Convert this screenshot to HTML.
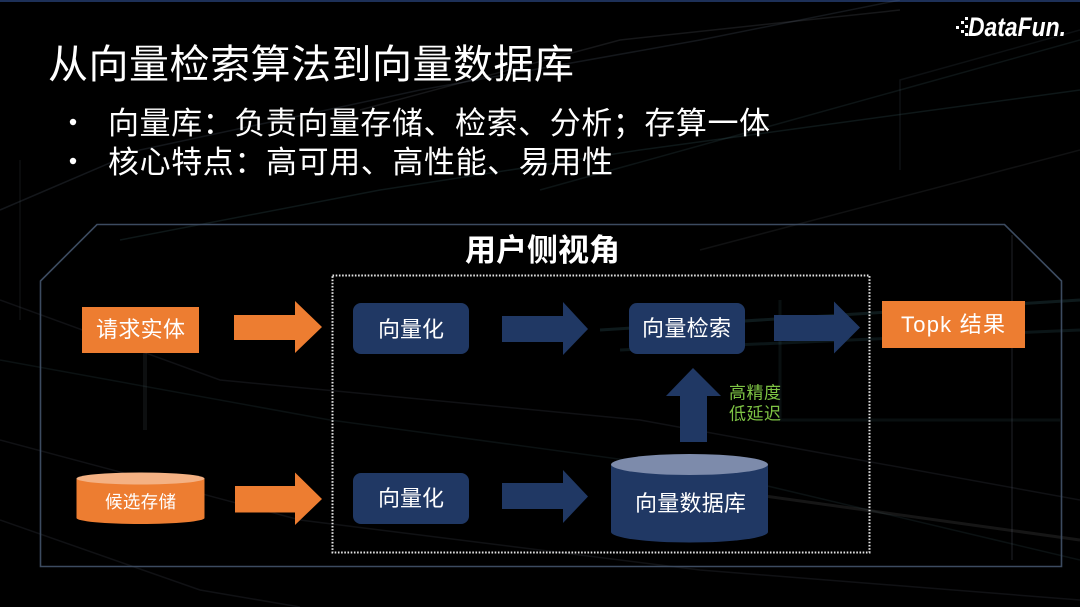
<!DOCTYPE html>
<html><head><meta charset="utf-8"><style>
html,body{margin:0;padding:0;background:#000;}
body{width:1080px;height:607px;overflow:hidden;}
svg{display:block;}
text{font-family:"Liberation Sans","Noto Sans CJK SC",sans-serif;}
</style></head><body>
<svg width="1080" height="607" viewBox="0 0 1080 607" xmlns="http://www.w3.org/2000/svg">
<rect x="0" y="0" width="1080" height="607" fill="#000"/>
<rect x="0" y="0" width="1080" height="2" fill="#1d3058"/>
<!-- faint background lines -->
<g fill="none" stroke-width="1.5">
<path d="M0 210 L140 150 L420 90 L700 40 L900 0" stroke="rgba(110,130,150,0.18)"/>
<path d="M120 240 L380 190 L640 150 L1080 90" stroke="rgba(90,140,150,0.16)"/>
<path d="M360 110 L620 40 L900 10" stroke="rgba(120,130,140,0.18)"/>
<path d="M540 190 L1080 40" stroke="rgba(90,140,150,0.14)"/>
<path d="M700 250 L1080 150" stroke="rgba(110,120,130,0.14)"/>
<path d="M900 170 L900 80 L1080 30" stroke="rgba(110,130,150,0.12)"/>
<path d="M0 300 L220 380 L640 420 L1080 500" stroke="rgba(110,120,140,0.14)"/>
<path d="M0 360 L330 420 L700 470 L1080 560" stroke="rgba(90,140,150,0.12)"/>
<path d="M0 440 L300 520 L700 570 L1080 600" stroke="rgba(110,120,140,0.14)"/>
<path d="M0 520 L200 590 L300 607" stroke="rgba(110,120,140,0.14)"/>
<path d="M600 330 L1080 300" stroke="rgba(70,130,140,0.2)" stroke-width="3"/>
<path d="M620 350 L1080 330" stroke="rgba(70,130,140,0.16)" stroke-width="3"/>
<path d="M780 300 L780 420 L1060 420" stroke="rgba(70,120,130,0.12)" stroke-width="3"/>
<path d="M650 480 L1080 540" stroke="rgba(120,120,120,0.18)" stroke-width="3"/>
<path d="M145 340 L145 430" stroke="rgba(110,120,130,0.12)" stroke-width="4"/>
<path d="M20 160 L20 320" stroke="rgba(110,120,130,0.12)"/>
<path d="M1012 235 L1012 560" stroke="rgba(110,120,140,0.14)" stroke-width="2"/>
</g>

<!-- title -->
<text x="48" y="78" font-size="40" fill="#fff" textLength="526" lengthAdjust="spacing">从向量检索算法到向量数据库</text>
<circle cx="73" cy="122" r="3.2" fill="#fff"/>
<circle cx="73" cy="161" r="3.2" fill="#fff"/>
<text x="108" y="134" font-size="31" fill="#fff" textLength="662" lengthAdjust="spacing">向量库：负责向量存储、检索、分析；存算一体</text>
<text x="108" y="173" font-size="31" fill="#fff" textLength="505" lengthAdjust="spacing">核心特点：高可用、高性能、易用性</text>

<!-- DataFun logo -->
<g fill="#fff">
<rect x="956" y="26" width="3" height="3"/>
<rect x="961" y="21" width="3" height="3"/>
<rect x="961" y="30" width="3" height="3"/>
<rect x="965" y="17" width="3" height="3"/>
<rect x="965" y="25" width="3" height="3"/>
<rect x="965" y="33" width="3" height="3"/>
</g>
<text x="968" y="36" font-size="27" font-style="italic" font-weight="bold" fill="#fff" textLength="98" lengthAdjust="spacingAndGlyphs">DataFun.</text>

<!-- outer frame -->
<path d="M97 224.5 L1004.5 224.5 L1061.5 281 L1061.5 566.5 L40.5 566.5 L40.5 281 Z" fill="none" stroke="#3c4b60" stroke-width="1.6"/>
<text x="465" y="261" font-size="31" font-weight="bold" fill="#fff" textLength="155" lengthAdjust="spacing">用户侧视角</text>

<!-- dotted box -->
<rect x="332.5" y="275.5" width="537" height="277" fill="none" stroke="#e6e6e6" stroke-width="2" stroke-dasharray="1.6 1.6"/>

<!-- row 1 -->
<rect x="82" y="307" width="117" height="46" fill="#ed7d31"/>
<text x="96" y="337" font-size="22" fill="#fff" textLength="89" lengthAdjust="spacing">请求实体</text>
<path d="M234 315 L295 315 L295 301 L322 327 L295 353 L295 340 L234 340 Z" fill="#ed7d31"/>

<rect x="353" y="303" width="116" height="51" rx="8" fill="#203864"/>
<text x="378" y="337" font-size="22" fill="#fff" textLength="66" lengthAdjust="spacing">向量化</text>

<path d="M502 316 L563 316 L563 302 L588 329 L563 355 L563 342 L502 342 Z" fill="#203864"/>

<rect x="629" y="303" width="116" height="51" rx="8" fill="#203864"/>
<text x="642" y="336" font-size="22" fill="#fff" textLength="89" lengthAdjust="spacing">向量检索</text>

<path d="M774 315 L834 315 L834 301.5 L860 327.5 L834 353.5 L834 341 L774 341 Z" fill="#203864"/>

<rect x="882" y="301" width="143" height="47" fill="#ed7d31"/>
<text x="901" y="332" font-size="22" fill="#fff" textLength="104" lengthAdjust="spacing">Topk 结果</text>

<!-- up arrow -->
<path d="M680 442 L680 396 L666 396 L693 368 L721 396 L707 396 L707 442 Z" fill="#203864"/>
<text x="729" y="398.5" font-size="17" fill="#7ec444" textLength="52" lengthAdjust="spacing">高精度</text>
<text x="729" y="419.5" font-size="17" fill="#7ec444" textLength="52" lengthAdjust="spacing">低延迟</text>

<!-- row 2 -->
<path d="M76.5 478.5 L76.5 518 A64 6 0 0 0 204.5 518 L204.5 478.5 Z" fill="#ed7d31"/>
<ellipse cx="140.5" cy="478.5" rx="64" ry="6" fill="#f4b183"/>
<text x="105" y="508" font-size="17.5" fill="#fff" textLength="71" lengthAdjust="spacing">候选存储</text>
<path d="M235 486 L295 486 L295 472.5 L322 499 L295 525 L295 512.5 L235 512.5 Z" fill="#ed7d31"/>

<rect x="353" y="473" width="116" height="51" rx="8" fill="#203864"/>
<text x="378" y="506" font-size="22" fill="#fff" textLength="66" lengthAdjust="spacing">向量化</text>

<path d="M502 483 L563 483 L563 470 L588 496.5 L563 523 L563 509 L502 509 Z" fill="#203864"/>

<path d="M611 464.5 L611 532 A78.5 10.5 0 0 0 768 532 L768 464.5 Z" fill="#203864"/>
<ellipse cx="689.5" cy="464.5" rx="78.5" ry="10.5" fill="#7d8bab"/>
<text x="635" y="511" font-size="22" fill="#fff" textLength="111" lengthAdjust="spacing">向量数据库</text>
</svg>
</body></html>
